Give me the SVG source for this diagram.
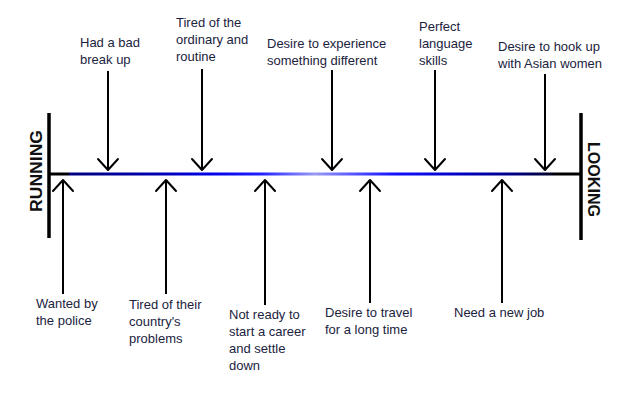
<svg xmlns="http://www.w3.org/2000/svg" width="640" height="393" viewBox="0 0 640 393">
<style>
.lbl{font-family:"Liberation Sans",Arial,sans-serif;font-size:13px;fill:#1b2340}
.end{font-family:"Liberation Sans",Arial,sans-serif;font-size:17px;font-weight:bold;fill:#111}
.shaft{stroke:#000;stroke-width:2;fill:none}
.bar{stroke:#000;stroke-width:3.5}
</style>
<defs>
<linearGradient id="lineGrad" gradientUnits="userSpaceOnUse" x1="49" y1="0" x2="581" y2="0">
<stop offset="0" stop-color="#000"/>
<stop offset="0.035" stop-color="#000"/>
<stop offset="0.04" stop-color="#000080"/>
<stop offset="0.2" stop-color="#0000b0"/>
<stop offset="0.3" stop-color="#0000e8"/>
<stop offset="0.4" stop-color="#2020ff"/>
<stop offset="0.45" stop-color="#6060ff"/>
<stop offset="0.5" stop-color="#9a9af2"/>
<stop offset="0.56" stop-color="#6060ff"/>
<stop offset="0.65" stop-color="#1010ff"/>
<stop offset="0.78" stop-color="#0000c0"/>
<stop offset="0.88" stop-color="#000080"/>
<stop offset="0.93" stop-color="#000040"/>
<stop offset="0.955" stop-color="#000"/>
<stop offset="1" stop-color="#000"/>
</linearGradient>
<marker id="vhead" markerUnits="userSpaceOnUse" orient="auto" refX="0" refY="0" markerWidth="30" markerHeight="30" overflow="visible">
<path d="M-11,-10 L0,0 L-11,10" fill="none" stroke="#000" stroke-width="2" stroke-linejoin="round" stroke-linecap="round"/>
</marker>
</defs>
<rect width="640" height="393" fill="#fff"/>

<g id="spine">
<line class="bar" x1="49" y1="113" x2="49" y2="238"/>
<line class="bar" x1="581" y1="113" x2="581" y2="240"/>
<line x1="49" y1="174" x2="581" y2="174" stroke="url(#lineGrad)" stroke-width="3"/>
</g>

<g id="connectors">
<line class="shaft" x1="108" y1="71" x2="108" y2="170" marker-end="url(#vhead)"/>
<line class="shaft" x1="202" y1="69" x2="202" y2="170" marker-end="url(#vhead)"/>
<line class="shaft" x1="332" y1="70" x2="332" y2="170" marker-end="url(#vhead)"/>
<line class="shaft" x1="435" y1="70" x2="435" y2="170" marker-end="url(#vhead)"/>
<line class="shaft" x1="545" y1="74" x2="545" y2="170" marker-end="url(#vhead)"/>
<line class="shaft" x1="63" y1="294" x2="63" y2="180" marker-end="url(#vhead)"/>
<line class="shaft" x1="166" y1="294" x2="166" y2="180" marker-end="url(#vhead)"/>
<line class="shaft" x1="265" y1="305" x2="265" y2="180" marker-end="url(#vhead)"/>
<line class="shaft" x1="370" y1="303" x2="370" y2="180" marker-end="url(#vhead)"/>
<line class="shaft" x1="502" y1="303" x2="502" y2="180" marker-end="url(#vhead)"/>
</g>

<g id="running"><text class="end" transform="translate(42,171) rotate(-90)" text-anchor="middle" textLength="82" lengthAdjust="spacingAndGlyphs">RUNNING</text></g>
<g id="looking"><text class="end" transform="translate(588,179.5) rotate(90)" text-anchor="middle" textLength="75" lengthAdjust="spacingAndGlyphs">LOOKING</text></g>

<g id="bad-breakup"><text class="lbl"><tspan x="80" y="47">Had a bad</tspan><tspan x="80" y="64">break up</tspan></text></g>
<g id="tired-ordinary"><text class="lbl"><tspan x="176" y="27">Tired of the</tspan><tspan x="176" y="44">ordinary and</tspan><tspan x="176" y="61">routine</tspan></text></g>
<g id="desire-experience"><text class="lbl"><tspan x="267" y="48">Desire to experience</tspan><tspan x="267" y="65">something different</tspan></text></g>
<g id="perfect-language"><text class="lbl"><tspan x="419" y="31">Perfect</tspan><tspan x="419" y="48">language</tspan><tspan x="419" y="65">skills</tspan></text></g>
<g id="hook-up"><text class="lbl"><tspan x="498" y="51">Desire to hook up</tspan><tspan x="498" y="68">with Asian women</tspan></text></g>

<g id="wanted"><text class="lbl"><tspan x="36" y="308">Wanted by</tspan><tspan x="36" y="325">the police</tspan></text></g>
<g id="tired-country"><text class="lbl"><tspan x="129" y="309">Tired of their</tspan><tspan x="129" y="326">country's</tspan><tspan x="129" y="343">problems</tspan></text></g>
<g id="not-ready"><text class="lbl"><tspan x="229" y="319">Not ready to</tspan><tspan x="229" y="336">start a career</tspan><tspan x="229" y="353">and settle</tspan><tspan x="229" y="370">down</tspan></text></g>
<g id="travel"><text class="lbl"><tspan x="325" y="317">Desire to travel</tspan><tspan x="325" y="334">for a long time</tspan></text></g>
<g id="new-job"><text class="lbl"><tspan x="454" y="317">Need a new job</tspan></text></g>
</svg>
